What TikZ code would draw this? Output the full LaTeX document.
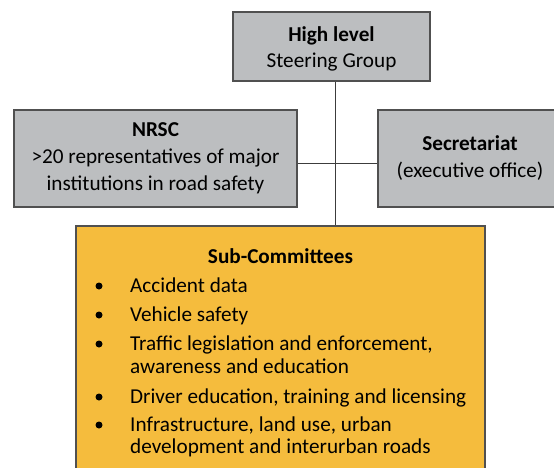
\documentclass[tikz,border=0pt]{standalone}
\usepackage{fontspec}
\setmainfont{Carlito}
\definecolor{boxgray}{RGB}{188,190,192}
\definecolor{boxorange}{RGB}{245,188,61}
\definecolor{boxline}{RGB}{80,80,80}
\definecolor{connline}{RGB}{60,60,60}
\begin{document}
\begin{tikzpicture}[x=1pt,y=-1pt,
  graybox/.style={draw=boxline, line width=1.4pt, fill=boxgray, inner sep=0pt},
  orangebox/.style={draw=boxline, line width=1.4pt, fill=boxorange, inner sep=0pt},
  bigtext/.style={anchor=base, inner sep=0pt, font=\fontsize{21.2}{26}\selectfont},
  itemtext/.style={anchor=base west, inner sep=0pt, font=\fontsize{21.2}{23}\selectfont},
  bul/.style={circle, fill=black, inner sep=0pt, minimum size=7pt},
  conn/.style={draw=connline, line width=1pt}]
\clip (0,0) rectangle (554,468);
\fill[white] (0,0) rectangle (554,468);
% boxes
\node[graybox, minimum width=197pt, minimum height=69pt] (top) at (331.5,46.5) {};
\node[graybox, minimum width=283pt, minimum height=97pt] (nrsc) at (155.5,158.5) {};
\node[graybox, minimum width=184pt, minimum height=97pt] (sec) at (470,158.5) {};
\node[orangebox, minimum width=409pt, minimum height=270pt] (sub) at (280.5,361) {};
% connectors
\coordinate (vx) at (335,0);
\coordinate (hy) at (0,163);
\draw[conn] (vx |- top.south) -- (vx |- sub.north);
\draw[conn] (nrsc.east |- hy) -- (sec.west |- hy);
% top text
\node[bigtext] (t1) at (331.5,42) {\textbf{High level}};
\node[bigtext] (t2) at (331.5,68) {Steering Group};
% NRSC text
\node[bigtext] (n1) at (155.5,137) {\textbf{NRSC}};
\node[bigtext] (n2) at (155.5,163.5) {>20 representatives of major};
\node[bigtext] (n3) at (155.5,190) {institutions in road safety};
% Secretariat text
\node[bigtext] (s1) at (470,150) {\textbf{Secretariat}};
\node[bigtext] (s2) at (470,177) {(executive office)};
% Sub-committees
\node[bigtext] (st) at (280.5,263) {\textbf{Sub-Committees}};
\node[bul] (b1) at (99,286) {};
\node[itemtext] (i1) at (130,292) {Accident data};
\node[bul] (b2) at (99,315) {};
\node[itemtext] (i2) at (130,321) {Vehicle safety};
\node[bul] (b3) at (99,344) {};
\node[itemtext] (i3a) at (130,350) {Traffic legislation and enforcement,};
\node[itemtext] (i3b) at (130,373) {awareness and education};
\node[bul] (b4) at (99,397) {};
\node[itemtext] (i4) at (130,403) {Driver education, training and licensing};
\node[bul] (b5) at (99,425) {};
\node[itemtext] (i5a) at (130,431) {Infrastructure, land use, urban};
\node[itemtext] (i5b) at (130,453) {development and interurban roads};
\end{tikzpicture}
\end{document}
